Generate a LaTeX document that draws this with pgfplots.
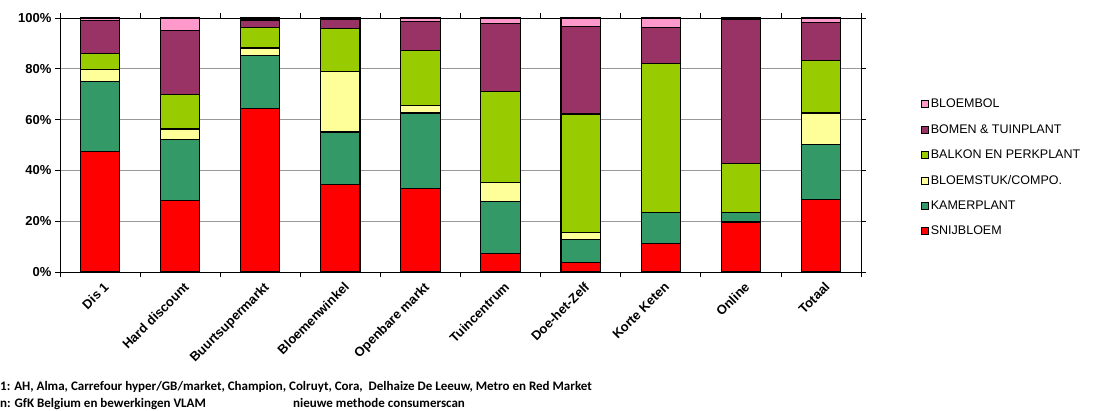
\documentclass[border=0pt]{standalone}
\usepackage{pgfplots}
\usepackage{pgfplotstable}
\pgfplotsset{compat=1.18}
\usepackage{fontspec}
\setmainfont{Liberation Sans}
\newfontfamily\calibri{Carlito}

\definecolor{snij}{HTML}{FF0000}
\definecolor{kamer}{HTML}{339966}
\definecolor{stuk}{HTML}{FFFF99}
\definecolor{balkon}{HTML}{99CC00}
\definecolor{bomen}{HTML}{993366}
\definecolor{bol}{HTML}{FF99CC}

% shares per channel, in %
\pgfplotstableread{
x  snij  kamer stuk balkon bomen bol
0  47.5  27.5  4.6   6.3   13.1  1.0
1  28.2  23.9  4.2  13.5   25.3  4.9
2  64.3  20.9  3.0   8.1    2.9  0.8
3  34.6  20.5 23.9  16.8    3.8  0.4
4  32.8  29.8  2.9  21.7   11.5  1.3
5   7.2  20.4  7.7  35.8   26.7  2.2
6   3.8   8.9  3.0  46.5   34.5  3.3
7  11.1  12.5  0.0  58.4   14.1  3.9
8  19.7   3.9  0.0  19.0   56.7  0.7
9  28.5  21.6 12.5  20.6   15.1  1.7
}\shares

\begin{document}
\begin{tikzpicture}
\useasboundingbox (0,0) rectangle (1095pt,410pt);
\begin{axis}[
    at={(60pt,138pt)}, anchor=south west,
    scale only axis, width=801pt, height=254pt,
    ybar stacked, bar width=0.49,
    xmin=-0.5, xmax=9.5, ymin=0, ymax=100,
    xtick=data,
    xticklabels={Dis 1, Hard discount, Buurtsupermarkt, Bloemenwinkel, Openbare markt, Tuincentrum, Doe-het-Zelf, Korte Keten, Online, Totaal},
    x tick label style={rotate=45, anchor=north east, font=\fontsize{13}{15}\selectfont\bfseries, inner sep=1pt, yshift=-4pt},
    major x tick style={draw=none},
    minor xtick={-0.5,0.5,...,9.5},
    minor tick length=5pt,
    ytick={0,20,...,100},
    yticklabel={\pgfmathprintnumber{\tick}\%},
    y tick label style={font=\fontsize{13}{15}\selectfont\bfseries},
    /pgf/number format/assume math mode=true,
    major tick length=5pt,
    tick align=outside,
    tick style={black, line width=0.8pt},
    ymajorgrids, grid style={gray!80, line width=0.8pt},
    axis line style={black, line width=0.9pt},
    every axis plot/.append style={draw=black, line width=1.1pt},
    legend style={at={(1.071,0.698)}, anchor=north west, draw=none,
        font=\fontsize{12.5}{14}\selectfont, row sep=11.2pt, cells={anchor=west}},
    legend image code/.code={\draw[#1, line width=0.8pt] (0pt,-3.5pt) rectangle (7pt,3.5pt);},
    reverse legend,
]
\addplot[fill=snij] table[x=x, y=snij] {\shares};
\addplot[fill=kamer] table[x=x, y=kamer] {\shares};
\addplot[fill=stuk] table[x=x, y=stuk] {\shares};
\addplot[fill=balkon] table[x=x, y=balkon] {\shares};
\addplot[fill=bomen] table[x=x, y=bomen] {\shares};
\addplot[fill=bol] table[x=x, y=bol] {\shares};
\legend{SNIJBLOEM, KAMERPLANT, BLOEMSTUK/COMPO., BALKON EN PERKPLANT, BOMEN \& TUINPLANT, BLOEMBOL}
\end{axis}
\begin{scope}[every node/.style={inner sep=0pt, font=\calibri\bfseries\fontsize{13}{15}\selectfont}]
\node[anchor=base east] at (0pt,20pt) {Dis\,};
\node[anchor=base west] at (0pt,20pt) {1: AH, Alma, Carrefour hyper/GB/market, Champion, Colruyt, Cora,\ \ Delhaize De Leeuw, Metro en Red Market};
\node[anchor=base east] at (0pt,3pt) {Bro};
\node[anchor=base west] at (0pt,3pt) {n: GfK Belgium en bewerkingen VLAM};
\node[anchor=base west] at (293pt,3pt) {nieuwe methode consumerscan};
\end{scope}
\end{tikzpicture}
\end{document}
